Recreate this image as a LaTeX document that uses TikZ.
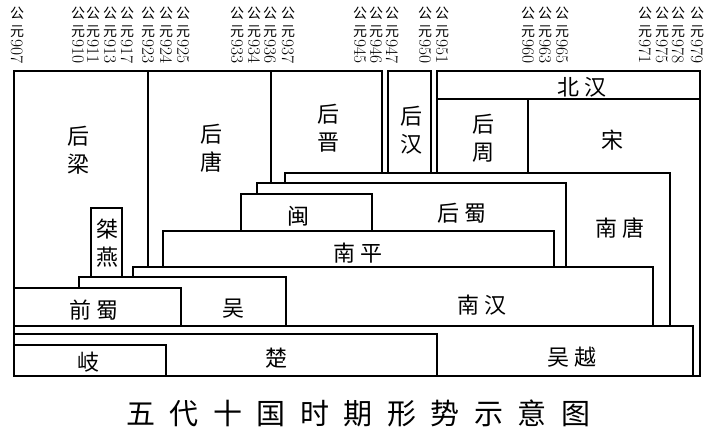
\documentclass[tikz,border=0pt]{standalone}
\usepackage{fontspec}
\newfontfamily\cjk{Noto Sans CJK SC}
\newfontfamily\cjklab[LetterSpace=27]{Noto Sans CJK SC}
\newfontfamily\cjktitle[LetterSpace=50]{Noto Sans CJK SC}

\begin{document}
\begin{tikzpicture}[x=1pt, y=-1pt,
  box/.style={draw=black, fill=white, line width=1.5pt},
  lab/.style={font=\cjklab\fontsize{22}{28}\selectfont, align=center, inner sep=0pt},
  yr/.style={anchor=north, align=center, inner sep=0pt, font=\cjk\fontsize{14}{18}\selectfont},
  yrnum/.style={anchor=west, rotate=-90, inner sep=0pt, font=\rmfamily\fontsize{17.5}{17.5}\selectfont},
  ttl/.style={font=\cjktitle\fontsize{29}{30}\selectfont, inner sep=0pt}]
\fill[white, use as bounding box] (0,0) rectangle (717,440);

% ---- year marks along the top ----
\foreach \x/\yy in {17/907, 78/910, 93/911, 110/913, 127/917, 148/923, 166/924, 183/925,
    237/933, 254/934, 270/936, 288/937, 360/945, 376/946, 392/947, 425/950, 442/951,
    528/960, 545/963, 562/965, 645/971, 662/975, 678/978, 697/979}{
  \node[yr] (y\yy) at (\x,7) {公\\元};
  \node[yrnum] (n\yy) at ([yshift=-1pt]y\yy.south) {\yy};
}

% ---- five dynasties (top band) ----
\draw[box] (14,71) rectangle (148,376);   % houliang
\draw[box] (148,71) rectangle (271,376);  % houtang
\draw[box] (271,71) rectangle (382,376);  % houjin
\draw[box] (388,71) rectangle (431,376);  % houhan
\draw[box] (437,71) rectangle (700,99);   % beihan
\draw[box] (437,99) rectangle (528,376);  % houzhou
\draw[box] (528,99) rectangle (700,376);  % song

% ---- ten kingdoms (stacked, back to front) ----
\draw[box] (285,173) rectangle (670,376); % nantang
\draw[box] (257,183) rectangle (566,376); % houshu
\draw[box] (241,194) rectangle (372,376); % min
\draw[box] (163,231) rectangle (554,376); % nanping
\draw[box] (133,267) rectangle (653,376); % nanhan
\draw[box] (91,208) rectangle (122,376);  % jieyan
\draw[box] (79,277) rectangle (286,376);  % wu
\draw[box] (14,288) rectangle (181,376);  % qianshu
\draw[box] (14,326) rectangle (693,376);  % wuyue
\draw[box] (14,334) rectangle (437,376);  % chu
\draw[box] (14,345) rectangle (166,376);  % qi

% ---- names ----
\node[lab] (houliang) at (78,150) {后\\梁};
\node[lab] (houtang) at (211,148) {后\\唐};
\node[lab] (houjin) at (328,128) {后\\晋};
\node[lab] (houhan) at (411,130) {后\\汉};
\node[lab] (houzhou) at (483,138) {后\\周};
\node[lab] (beihan) at (582,87) {北汉};
\node[lab] (song) at (612,140) {宋};
\node[lab] (nantang) at (620,228) {南唐};
\node[lab] (houshu) at (462,213) {后蜀};
\node[lab] (min) at (298,216) {闽};
\node[lab] (nanping) at (358,253) {南平};
\node[lab] (jieyan) at (107,243) {桀\\燕};
\node[lab] (nanhan) at (482,305) {南汉};
\node[lab] (wu) at (233,309) {吴};
\node[lab] (qianshu) at (94,310) {前蜀};
\node[lab] (wuyue) at (572,357) {吴越};
\node[lab] (chu) at (276,358) {楚};
\node[lab] (qi) at (88,362) {岐};

% title
\node[ttl] (title) at (358,413) {五代十国时期形势示意图};
\end{tikzpicture}
\end{document}
